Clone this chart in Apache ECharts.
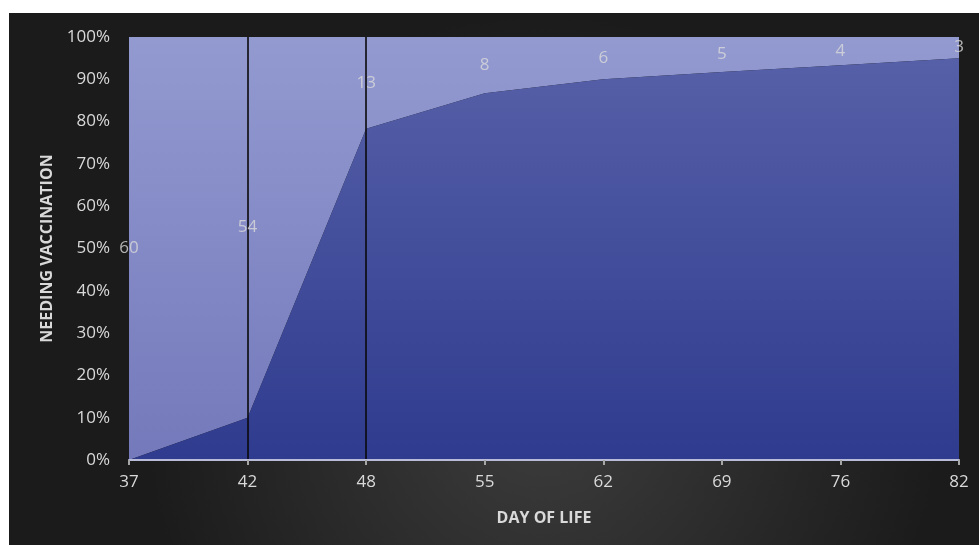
<!DOCTYPE html>
<html><head><meta charset="utf-8">
<script src="https://cdn.jsdelivr.net/npm/echarts@6/dist/echarts.min.js"></script>
<style>html,body{margin:0;padding:0;background:#fff;}#c{width:979px;height:545px;}</style>
</head><body><div id="c"></div>
<script>
const days = ['37','42','48','55','62','69','76','82'];
const vaccinatedPct = [0, 10, 78.3, 86.7, 90, 91.7, 93.3, 95];
const remainingPct = [100, 90, 21.7, 13.3, 10, 8.3, 6.7, 5];
const remainingCount = [60, 54, 13, 8, 6, 5, 4, 3];
const markedDays = ['42', '48'];
const yTicks = [0,10,20,30,40,50,60,70,80,90,100];

const labelPos = vaccinatedPct.map((v, i) => v + remainingPct[i] / 2);
const chart = echarts.init(document.getElementById('c'), null, {renderer: 'canvas'});
const textColor = '#d9d9d9';
const font = 'Open Sans';
chart.setOption({
  backgroundColor: '#ffffff',
  animation: false,
  graphic: [{
    type: 'rect', z: -10, silent: true,
    shape: {x: 9, y: 13, width: 970, height: 532},
    style: {fill: new echarts.graphic.RadialGradient(0.55, 0.75, 0.75, [
      {offset: 0, color: '#3d3d3d'}, {offset: 1, color: '#1b1b1b'}])}
  }],
  grid: {left: 129, right: 20, top: 37, bottom: 85, containLabel: false},
  xAxis: {
    type: 'category', data: days, boundaryGap: false,
    name: 'DAY OF LIFE', nameLocation: 'middle', nameGap: 50,
    nameTextStyle: {color: textColor, fontFamily: font, fontWeight: 'bold', fontSize: 16},
    axisLine: {show: true, lineStyle: {color: '#b9bcd8', width: 2}},
    axisTick: {show: true, alignWithLabel: true, length: 5, lineStyle: {color: '#a6a6a6', width: 2}},
    axisLabel: {color: textColor, fontFamily: font, fontSize: 17, margin: 14},
    splitLine: {show: false}, z: 5
  },
  yAxis: {
    type: 'value', min: 0, max: 100, interval: 10,
    name: 'NEEDING VACCINATION', nameLocation: 'middle', nameGap: 72, nameRotate: 90,
    nameTextStyle: {color: textColor, fontFamily: font, fontWeight: 'bold', fontSize: 16},
    axisLine: {show: false}, axisTick: {show: false},
    axisLabel: {color: textColor, fontFamily: font, fontSize: 17, margin: 19,
      formatter: v => yTicks.includes(v) ? v + '%' : ''},
    splitLine: {show: false}
  },
  series: [
    {
      name: 'Vaccinated', type: 'line', stack: 'all', data: vaccinatedPct,
      symbol: 'none', lineStyle: {width: 0}, z: 2,
      areaStyle: {opacity: 1, color: new echarts.graphic.LinearGradient(0, 0, 0, 1, [
        {offset: 0, color: '#5660a8'}, {offset: 1, color: '#2f3b8e'}])}
    },
    {
      name: 'Remaining', type: 'line', stack: 'all', data: remainingPct,
      symbol: 'none', lineStyle: {width: 0}, z: 1,
      areaStyle: {opacity: 1, color: new echarts.graphic.LinearGradient(0, 0, 0, 1, [
        {offset: 0, color: '#939ad0'}, {offset: 1, color: '#7479bb'}])},
      markLine: {
        silent: true, symbol: 'none', label: {show: false},
        lineStyle: {color: '#0a0a0a', width: 1.6, type: 'solid'},
        data: markedDays.map(d => ({xAxis: d}))
      }
    },
    {
      name: 'Count', type: 'scatter', data: labelPos, symbolSize: 0, z: 10,
      label: {show: true, position: 'inside', color: textColor, fontFamily: font, fontSize: 17,
        formatter: p => String(remainingCount[p.dataIndex])}
    }
  ]
});
</script></body></html>
